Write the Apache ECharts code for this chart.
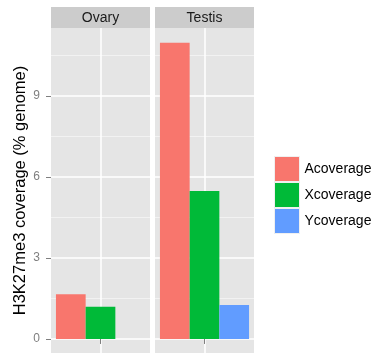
<!DOCTYPE html>
<html>
<head>
<meta charset="utf-8">
<script src="https://cdn.jsdelivr.net/npm/echarts@6/dist/echarts.min.js"></script>
<style>
  html, body { margin: 0; padding: 0; background: #ffffff; }
  #chart { width: 374px; height: 361px; }
</style>
</head>
<body>
<div id="chart"></div>
<script>
// Facet panels and coverage series (% of genome)
const panels = ['Ovary', 'Testis'];
const seriesNames = ['Acoverage', 'Xcoverage', 'Ycoverage'];
const aCoverage = [1.66, 10.97];
const xCoverage = [1.19, 5.48];
const yCoverage = [null, 1.26];
const yTicks = [0, 3, 6, 9];
const yMinorTicks = [1.5, 4.5, 7.5, 10.5];

const seriesValues = [aCoverage, xCoverage, yCoverage];
const colors = ['#F8766D', '#00BA38', '#619CFF'];

// Panel geometry
const panelLeft = [51, 155];
const panelTop = 28;
const panelWidth = 99;
const panelHeight = 325;
const stripTop = 7;
const yMin = -0.52, yMax = 11.52;
const font = "'Liberation Sans', Arial, Helvetica, sans-serif";

const grids = panels.map((p, i) => ({
  left: panelLeft[i], top: panelTop, width: panelWidth, height: panelHeight,
  show: true, backgroundColor: '#e5e5e5', borderWidth: 0, containLabel: false
}));

const xAxes = [];
// category axes carrying the bars
panels.forEach((p, i) => {
  xAxes.push({
    type: 'category', gridIndex: i, data: [p],
    axisLine: { show: false }, axisTick: { show: false },
    axisLabel: { show: false }, splitLine: { show: false }
  });
});
// value axes drawing the centre gridline and bottom tick
panels.forEach((p, i) => {
  xAxes.push({
    type: 'value', gridIndex: i, min: 0, max: 2, position: 'bottom',
    axisLine: { show: false },
    axisTick: { show: true, customValues: [1], length: 5, lineStyle: { color: '#7f7f7f', width: 1 } },
    axisLabel: { show: false },
    splitLine: { show: true, lineStyle: { color: '#ffffff', width: 1.5 } }
  });
});

const yAxes = [];
panels.forEach((p, i) => {
  yAxes.push({
    type: 'value', gridIndex: i, min: yMin, max: yMax,
    name: i === 0 ? 'H3K27me3 coverage (% genome)' : '',
    nameLocation: 'middle', nameRotate: 90, nameGap: 19,
    nameTextStyle: { fontFamily: font, fontSize: 16.5, color: '#000000' },
    axisLine: { show: false },
    axisTick: { show: i === 0, customValues: yTicks, length: 5, lineStyle: { color: '#7f7f7f', width: 1 } },
    axisLabel: { show: i === 0, customValues: yTicks, margin: 11, fontFamily: font, fontSize: 12, color: '#7f7f7f' },
    splitLine: { show: true, lineStyle: { color: '#ffffff', width: 1.5 } }
  });
});
// minor gridlines
panels.forEach((p, i) => {
  yAxes.push({
    type: 'value', gridIndex: i, min: yMin, max: yMax,
    axisLine: { show: false },
    axisTick: { show: false, customValues: yMinorTicks },
    axisLabel: { show: false },
    splitLine: { show: true, lineStyle: { color: '#f2f2f2', width: 1 } }
  });
});

const series = [];
panels.forEach((p, i) => {
  seriesNames.forEach((name, k) => {
    series.push({
      type: 'bar', name: name, xAxisIndex: i, yAxisIndex: i,
      data: [seriesValues[k][i] === null ? '-' : seriesValues[k][i]],
      barWidth: 29.7, barGap: '0%',
      itemStyle: { color: colors[k] },
      emphasis: { disabled: true }, silent: true
    });
  });
});

// Facet strips
const graphics = [];
panels.forEach((p, i) => {
  graphics.push({
    type: 'rect', left: panelLeft[i], top: stripTop,
    shape: { width: panelWidth, height: panelTop - stripTop },
    style: { fill: '#cccccc' }, silent: true
  });
  graphics.push({
    type: 'text', x: panelLeft[i] + panelWidth / 2, y: (stripTop + panelTop) / 2 + 0.5,
    style: { text: p, fill: '#1a1a1a', font: '14px ' + font, align: 'center', verticalAlign: 'middle' },
    silent: true
  });
});

const chart = echarts.init(document.getElementById('chart'), null, { renderer: 'canvas' });
chart.setOption({
  animation: false,
  backgroundColor: '#ffffff',
  grid: grids,
  xAxis: xAxes,
  yAxis: yAxes,
  series: series,
  graphic: graphics,
  legend: {
    data: seriesNames, orient: 'vertical', left: 274, top: 156,
    itemWidth: 25, itemHeight: 25, itemGap: 0, icon: 'rect', selectedMode: false,
    padding: 0,
    itemStyle: { borderColor: '#f0f0f0', borderWidth: 1 },
    textStyle: { fontFamily: font, fontSize: 14, color: '#000000' }
  }
});
</script>
</body>
</html>
